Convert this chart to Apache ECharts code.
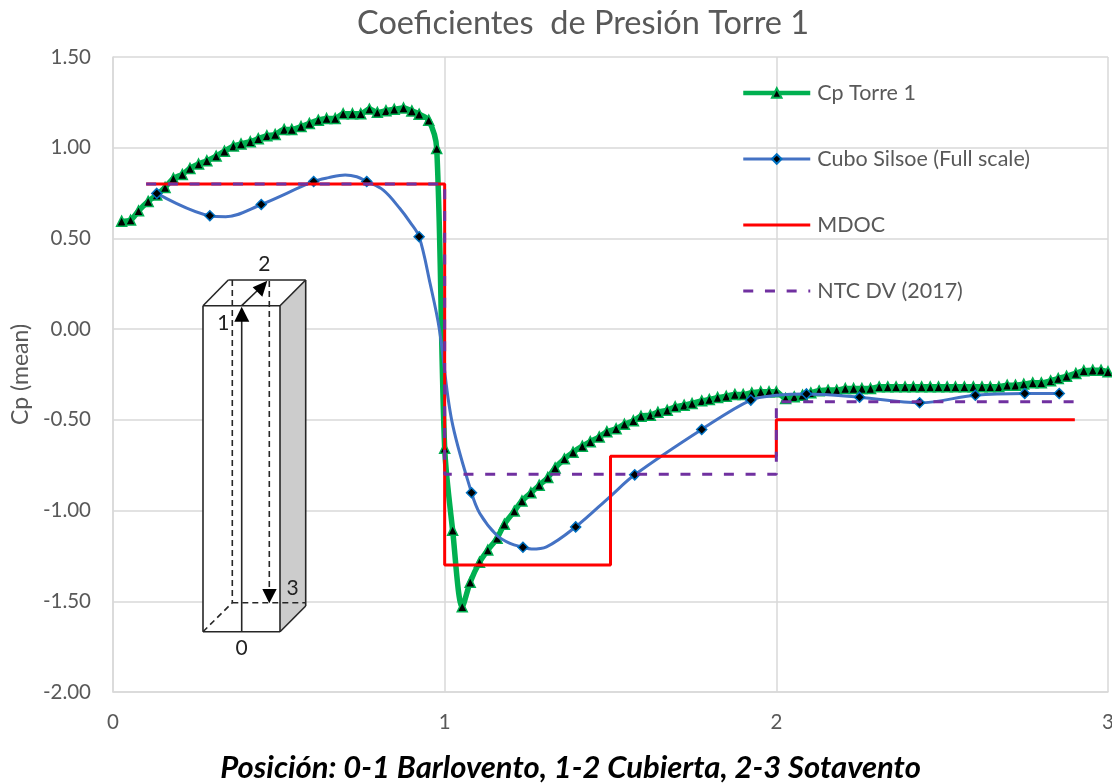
<!DOCTYPE html>
<html><head><meta charset="utf-8">
<style>html,body{margin:0;padding:0;background:#fff;overflow:hidden}#c{width:1112px;height:783px}</style>
<script src="https://cdn.jsdelivr.net/npm/echarts@6/dist/echarts.min.js"></script>
</head><body><div id="c"></div>
<script>
const torreX = [.026,.053,.077,.106,.132,.157,.182,.209,.232,.258,.283,.311,.336,.363,.386,.414,.438,.464,.489,.516,.539,.567,.592,.619,.644,.670,.694,.722,.747,.773,.797,.823,.848,.876,.901,.923,.952,.976,
1.0,1.024,1.053,1.077,1.105,1.13,1.158,1.18,1.21,1.233,1.26,1.285,1.311,1.333,1.361,1.387,1.415,1.439,1.466,1.489,1.517,1.542,1.569,1.592,1.620,1.643,1.671,1.695,1.722,1.746,1.775,1.798,1.823,1.849,1.875,1.900,1.926,1.953,1.978,2.0,
2.028,2.054,2.079,2.104,2.129,2.156,2.182,2.208,2.233,2.258,2.284,2.310,2.336,2.361,2.388,2.413,2.438,2.464,2.489,2.515,2.540,2.567,2.594,2.620,2.645,2.671,2.696,2.721,2.746,2.773,2.799,2.827,2.850,2.875,2.903,2.927,2.954,2.979,3.0];
const torreY = [.595,.601,.652,.704,.74,.781,.831,.853,.886,.91,.928,.954,.981,1.009,1.021,1.033,1.05,1.066,1.073,1.101,1.101,1.117,1.134,1.152,1.161,1.161,1.187,1.187,1.187,1.213,1.195,1.204,1.212,1.219,1.203,1.185,1.152,.996,
-.656,-1.108,-1.53,-1.395,-1.285,-1.218,-1.152,-1.075,-1.003,-.947,-.902,-.86,-.818,-.765,-.715,-.678,-.645,-.62,-.594,-.565,-.549,-.524,-.505,-.48,-.474,-.458,-.447,-.428,-.419,-.41,-.395,-.388,-.377,-.37,-.36,-.36,-.351,-.345,-.345,-.345,
-.382,-.373,-.364,-.351,-.34,-.336,-.336,-.327,-.327,-.327,-.327,-.318,-.318,-.318,-.318,-.318,-.318,-.318,-.318,-.318,-.318,-.318,-.318,-.318,-.318,-.318,-.309,-.309,-.303,-.296,-.296,-.285,-.272,-.259,-.244,-.229,-.226,-.226,-.235];
const silsoeX = [.132,.292,.447,.605,.765,.923,1.081,1.236,1.395,1.573,1.775,1.923,2.091,2.251,2.432,2.60,2.749,2.853];
const silsoeY = [.748,.625,.687,.814,.814,.509,-.902,-1.202,-1.09,-.803,-.553,-.391,-.357,-.375,-.406,-.364,-.355,-.355];
const silsoeCurveX = [.132,.292,.34,.447,.605,.65,.70,.735,.765,.815,.865,.895,.923,.956,.984,1.021,1.081,1.106,1.157,1.197,1.236,1.262,1.307,1.395,1.498,1.573,1.775,1.923,2.0,2.091,2.251,2.432,2.60,2.749,2.853];
const silsoeCurveY = [.748,.625,.62,.687,.814,.835,.85,.84,.814,.766,.665,.591,.509,.252,0,-.5,-.902,-1.016,-1.136,-1.181,-1.202,-1.212,-1.2,-1.09,-.924,-.803,-.553,-.391,-.365,-.357,-.375,-.406,-.364,-.355,-.355];
const mdocX = [.1,1,1,1.5,1.5,2,2,2.9];
const mdocY = [.8,.8,-1.3,-1.3,-.7,-.7,-.5,-.5];
const ntcX = [.1,1,1,2,2,2.9];
const ntcY = [.8,.8,-.8,-.8,-.4,-.4];
const xTicks = [0,1,2,3];
const names = ['Cp Torre 1','Cubo Silsoe (Full scale)','MDOC','NTC DV (2017)'];
const zip = (a,b) => a.map((v,i)=>[v,b[i]]);
const F = 'Lato, "Open Sans", sans-serif';
const TXT = '#595959', LN = '#262626';
const seg = (x1,y1,x2,y2,dash) => ({type:'line',shape:{x1,y1,x2,y2},z:20,style:{stroke:LN,lineWidth:1.6,lineDash:dash?[6,4]:null}});
const poly = (points,fill) => ({type:'polygon',shape:{points},z:20,style:{fill}});
const lab = (text,x,y) => ({type:'text',x,y,z:21,style:{text,font:'21px '+F,fill:'#222',align:'center',verticalAlign:'middle'}});
const chart = echarts.init(document.getElementById('c'),null,{renderer:'canvas'});
chart.setOption({
  animation:false,
  backgroundColor:'#fff',
  title:{text:'Coeficientes  de Presión Torre 1',left:357,top:7,padding:0,textStyle:{fontFamily:F,fontSize:32.5,fontWeight:'normal',color:TXT}},
  grid:{left:113,right:4,top:57,bottom:91,containLabel:false,outerBoundsMode:'none'},
  legend:{orient:'vertical',left:741,top:82,padding:0,itemWidth:67,itemHeight:12,itemGap:44,
    data:[
      {name:names[0],lineStyle:{color:'#00B050',width:4.5}},
      {name:names[1],lineStyle:{color:'#4472C4',width:3}},
      {name:names[2],lineStyle:{color:'#FF0000',width:3},itemStyle:{opacity:0}},
      {name:names[3],lineStyle:{color:'#7030A0',width:3,type:[10,11.7]},itemStyle:{opacity:0}}
    ],
    textStyle:{fontFamily:F,fontSize:21.5,color:TXT,padding:[0,0,0,2]}},
  xAxis:{type:'value',min:0,max:3,interval:1,
    name:'Posición: 0-1 Barlovento, 1-2 Cubierta, 2-3 Sotavento',nameLocation:'middle',nameGap:60,
    nameTextStyle:{fontFamily:F,fontSize:31,fontWeight:'bold',fontStyle:'italic',color:'#000',padding:[0,80,0,0]},
    axisLine:{onZero:false,lineStyle:{color:'#D9D9D9',width:1.5}},axisTick:{show:false},
    axisLabel:{fontFamily:F,fontSize:20.5,color:TXT,margin:20,hideOverlap:false,formatter:v=>xTicks.includes(v)?String(v):''},
    splitLine:{show:true,lineStyle:{color:'#D9D9D9',width:1.5}}},
  yAxis:{type:'value',min:-2,max:1.5,interval:.5,
    name:'Cp (mean)',nameLocation:'middle',nameGap:80,nameTextStyle:{fontFamily:F,fontSize:23,color:TXT},
    axisLine:{show:true,lineStyle:{color:'#D9D9D9',width:1.5}},axisTick:{show:false},
    axisLabel:{fontFamily:F,fontSize:20.5,color:TXT,margin:22,formatter:v=>v.toFixed(2)},
    splitLine:{show:true,lineStyle:{color:'#D9D9D9',width:1.5}}},
  series:[
    {name:names[0],type:'line',data:zip(torreX,torreY),smooth:.3,clip:false,z:3,
      lineStyle:{color:'#00B050',width:5.5},symbol:'triangle',symbolSize:10,
      itemStyle:{color:'#000',borderColor:'#00B050',borderWidth:1.5}},
    {name:'curve',type:'line',data:zip(silsoeCurveX,silsoeCurveY),smooth:.35,z:4,symbol:'none',
      lineStyle:{color:'#4472C4',width:3}},
    {name:names[1],type:'line',data:zip(silsoeX,silsoeY),z:5,
      lineStyle:{color:'#4472C4',width:0},symbol:'diamond',symbolSize:10,
      itemStyle:{color:'#000',borderColor:'#0070C0',borderWidth:1.5}},
    {name:names[2],type:'line',data:zip(mdocX,mdocY),z:6,symbol:'none',
      lineStyle:{color:'#FF0000',width:3},itemStyle:{color:'#FF0000'}},
    {name:names[3],type:'line',data:zip(ntcX,ntcY),z:7,symbol:'none',
      lineStyle:{color:'#7030A0',width:3,type:[10,11.7]},itemStyle:{color:'#7030A0'}}
  ],
  graphic:[
    {type:'polygon',z:19,shape:{points:[[203,305.7],[228.3,280],[305.7,280],[305.7,606],[280,631.7],[203,631.7]]},style:{fill:'#fff'}},
    {type:'polygon',z:19,shape:{points:[[280,305.7],[305.7,280],[305.7,606],[280,631.7]]},style:{fill:'#CCCCCC'}},
    seg(232.3,280,232.3,602.7,true),
    seg(203,631.7,232.3,602.7,true),
    seg(232.3,602.7,305.7,602.7,true),
    seg(269.3,281,269.3,590,true),
    seg(203,305.7,280,305.7),seg(203,305.7,203,631.7),seg(203,631.7,280,631.7),seg(280,305.7,280,631.7),
    seg(203,305.7,228.3,280),seg(228.3,280,305.7,280),seg(305.7,280,305.7,606),seg(280,305.7,305.7,280),seg(280,631.7,305.7,606),
    seg(241.7,631.7,241.7,318),seg(241.7,305.7,258,290),
    poly([[241.7,306.7],[234.3,321.7],[249.3,321.7]],'#000'),
    poly([[267.3,280.7],[252.7,287.3],[262.3,296.7]],'#000'),
    poly([[269.3,603.3],[262.3,589],[276.7,589]],'#000'),
    lab('1',223.3,323.5),lab('2',264.3,264),lab('3',292.7,588.5),lab('0',241.7,648.5)
  ]
});
</script></body></html>
